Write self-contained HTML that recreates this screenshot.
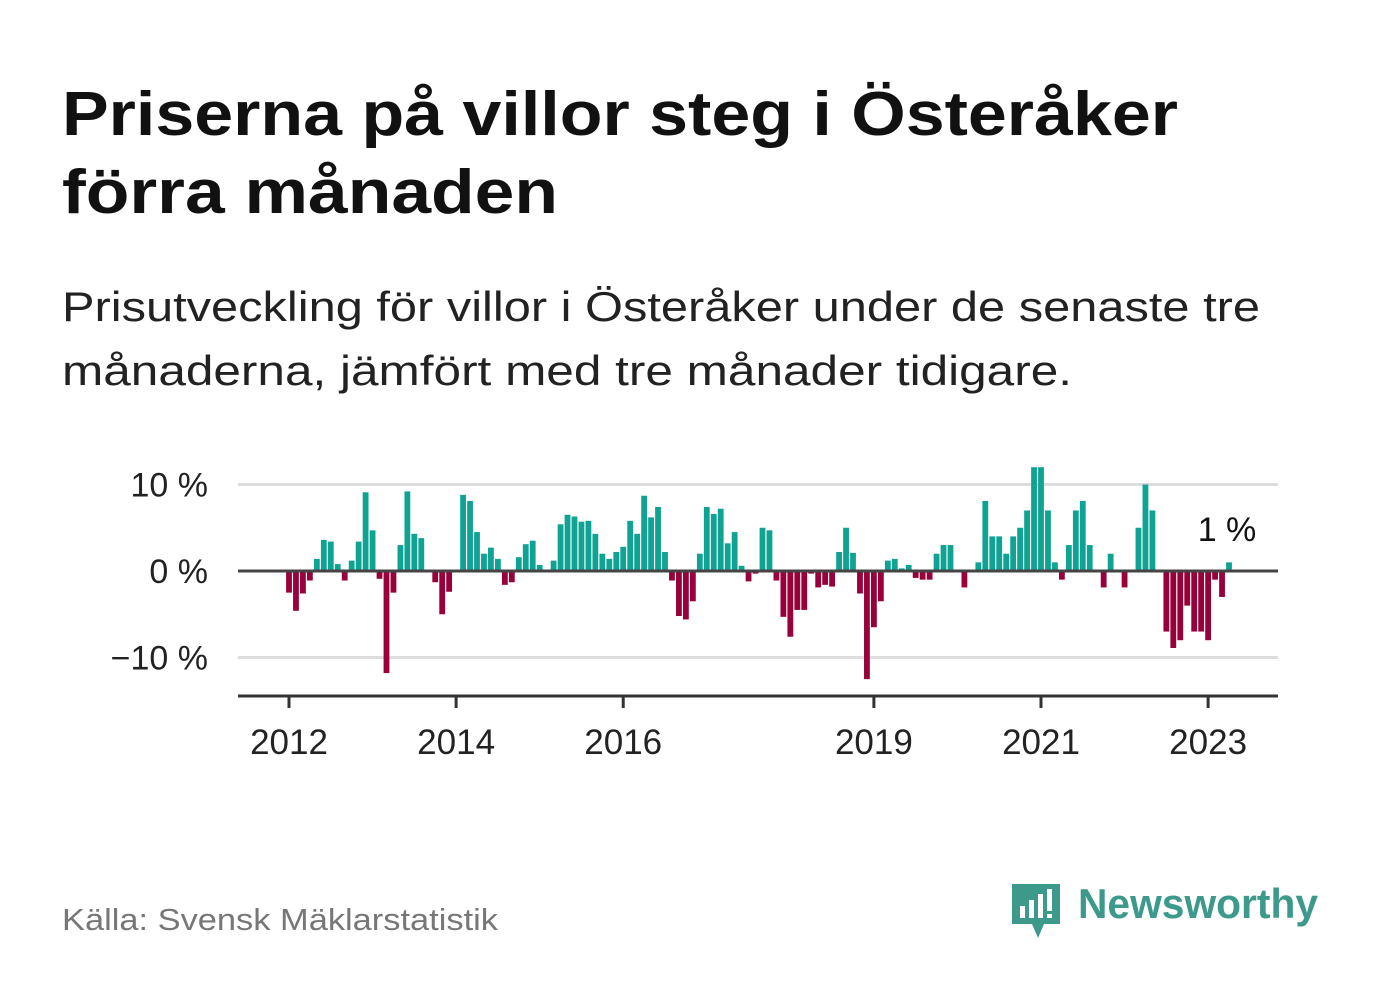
<!DOCTYPE html>
<html><head><meta charset="utf-8"><style>
html,body{margin:0;padding:0;background:#fff;}
svg{display:block;font-family:"Liberation Sans",sans-serif;}
</style></head><body>
<svg id="chart" width="1382" height="999" viewBox="0 0 1382 999">
<text x="62" y="135" font-size="62" font-weight="bold" fill="#111" textLength="1116" lengthAdjust="spacingAndGlyphs">Priserna på villor steg i Österåker</text>
<text x="62" y="213" font-size="62" font-weight="bold" fill="#111" textLength="496" lengthAdjust="spacingAndGlyphs">förra månaden</text>
<text x="62" y="321" font-size="42" fill="#222" textLength="1198" lengthAdjust="spacingAndGlyphs">Prisutveckling för villor i Österåker under de senaste tre</text>
<text x="62" y="385" font-size="42" fill="#222" textLength="1010" lengthAdjust="spacingAndGlyphs">månaderna, jämfört med tre månader tidigare.</text>
<g id="grid"></g>
<g id="bars"></g>
<g id="axes"></g>
<text x="1227" y="541" font-size="34" fill="#111" text-anchor="middle">1 %</text>
<text x="62" y="930" font-size="31" fill="#777" textLength="436" lengthAdjust="spacingAndGlyphs">Källa: Svensk Mäklarstatistik</text>
<g>
<path d="M1012 884 h48 v40 h-16 l-6 14 l-6 -14 h-20 z" fill="#3d9a8b"/>
<rect x="1020" y="906" width="5" height="12" fill="#fff"/>
<rect x="1029" y="900" width="5" height="18" fill="#fff"/>
<rect x="1038" y="894" width="5" height="24" fill="#fff"/>
<rect x="1047" y="889" width="5" height="22" fill="#fff"/>
<rect x="1047" y="914" width="5" height="4" fill="#fff"/>
<text x="1078" y="918" font-size="42" font-weight="bold" fill="#3d9a8b" textLength="240" lengthAdjust="spacingAndGlyphs">Newsworthy</text>
</g>
</svg>
<script>
const values = [-2.5,-4.6,-2.6,-1.1,1.4,3.6,3.4,0.8,-1.1,1.2,3.4,9.1,4.7,-0.9,-11.8,-2.5,3.0,9.2,4.3,3.8,null,-1.3,-5.0,-2.4,null,8.8,8.1,4.5,2.0,2.7,1.4,-1.6,-1.3,1.6,3.1,3.5,0.7,null,1.2,5.4,6.5,6.3,5.7,5.8,4.3,2.0,1.4,2.2,2.8,5.8,4.3,8.7,6.2,7.4,2.2,-1.1,-5.2,-5.6,-3.5,2.0,7.4,6.6,7.2,3.2,4.5,0.6,-1.2,-0.3,5.0,4.7,-1.1,-5.3,-7.6,-4.5,-4.5,-0.3,-1.9,-1.6,-1.8,2.2,5.0,2.1,-2.6,-12.5,-6.5,-3.5,1.2,1.4,0.3,0.7,-0.8,-1.0,-1.0,2.0,3.0,3.0,null,-1.9,null,1.0,8.1,4.0,4.0,2.0,4.0,5.0,7.0,12.0,12.0,7.0,1.0,-1.0,3.0,7.0,8.1,3.0,null,-1.9,2.0,null,-1.9,null,5.0,10.0,7.0,null,-7.0,-8.9,-8.0,-4.0,-7.0,-7.0,-8.0,-1.0,-3.0,1.0];
const yTicks = [10,0,-10];
const yTickLabels = ["10 %","0 %","\u221210 %"];
const xTickYears = [2012,2014,2016,2019,2021,2023];
const startYear = 2012;
const NS="http://www.w3.org/2000/svg";
const X0=238,X1=1278;
function xScale(m){return 289+m*6.963;}
function yScale(v){return 571-v*8.65;}
function mk(tag,attrs,parent){const e=document.createElementNS(NS,tag);for(const k in attrs)e.setAttribute(k,attrs[k]);parent.appendChild(e);return e;}
const grid=document.getElementById('grid'),bars=document.getElementById('bars'),axes=document.getElementById('axes');
yTicks.forEach((t,i)=>{
  if(t!==0){const l=mk('line',{x1:X0,x2:X1,y1:yScale(t),y2:yScale(t),stroke:'#ddd','stroke-width':3},grid);
  
  }
  const tx=mk('text',{x:208,y:yScale(t)+12,'font-size':34,fill:'#222','text-anchor':'end'},axes);
  tx.textContent=yTickLabels[i];
  
  
});
values.forEach((v,m)=>{
  if(v===null)return;
  const y0=yScale(0),y1=yScale(v);
  const r=mk('rect',{x:xScale(m)-2.9,y:Math.min(y0,y1),width:5.8,height:Math.abs(y1-y0),fill:v>=0?'#0fa394':'#98003b'},bars);
  
  
});
const zl=mk('line',{x1:X0,x2:X1,y1:yScale(0),y2:yScale(0),stroke:'#444','stroke-width':3},axes);


const xl=mk('line',{x1:X0,x2:X1,y1:696,y2:696,stroke:'#333','stroke-width':3},axes);


xTickYears.forEach(yr=>{
  const x=xScale((yr-startYear)*12);
  const tk=mk('line',{x1:x,x2:x,y1:696,y2:708,stroke:'#333','stroke-width':3},axes);
  
  
  const tx=mk('text',{x:x,y:754,'font-size':35,fill:'#222','text-anchor':'middle'},axes);
  tx.textContent=yr;
  
  
});
</script>
</body></html>
